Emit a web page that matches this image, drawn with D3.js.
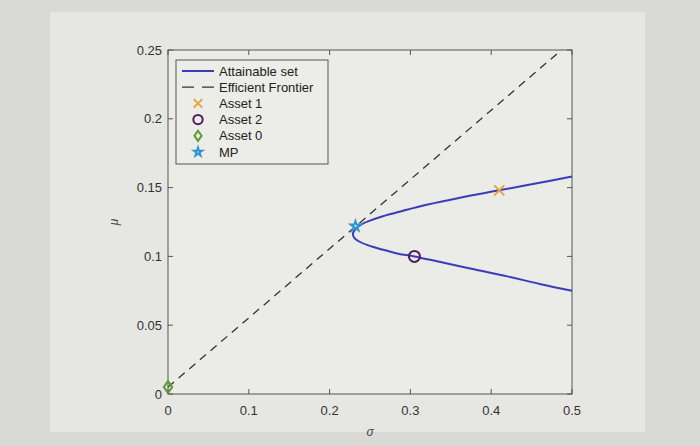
<!DOCTYPE html>
<html>
<head>
<meta charset="utf-8">
<script src="https://cdn.jsdelivr.net/npm/d3@7"></script>
<style>
  body { margin: 0; background: #dcdcd8; }
  svg { display: block; font-family: "Liberation Sans", Arial, sans-serif; }
</style>
</head>
<body>
<div id="chart"></div>
<script>
// Mean-variance plot (sigma vs mu)

const width = 700, height = 446;
const margin = {top: 50, right: 128, bottom: 52, left: 168};

// attainable set (upper branch then lower branch)
const attainable = [
  [0.500, 0.158], [0.455, 0.153], [0.410, 0.148], [0.360, 0.1425],
  [0.320, 0.1375], [0.290, 0.133], [0.265, 0.129], [0.250, 0.126],
  [0.240, 0.1235], [0.233, 0.1205], [0.229, 0.117], [0.230, 0.114],
  [0.236, 0.111], [0.248, 0.108], [0.265, 0.105], [0.285, 0.102],
  [0.305, 0.100], [0.340, 0.0955], [0.380, 0.0905], [0.420, 0.0855],
  [0.460, 0.080], [0.500, 0.075]
];
// efficient frontier (straight line from asset 0 through MP)
const frontier = [[0.000, 0.005], [0.487, 0.250]];
const assets = [
  {name: "Asset 1", sigma: 0.410, mu: 0.148},
  {name: "Asset 2", sigma: 0.305, mu: 0.100},
  {name: "Asset 0", sigma: 0.000, mu: 0.005},
  {name: "MP", sigma: 0.232, mu: 0.122}
];
const xTicks = [0, 0.1, 0.2, 0.3, 0.4, 0.5];
const yTicks = [0, 0.05, 0.1, 0.15, 0.2, 0.25];
const legendNames = ["Attainable set", "Efficient Frontier", "Asset 1", "Asset 2", "Asset 0", "MP"];

const colBlue = "#3b3db8";
const colAsset1 = "#e3a53a";
const colAsset2 = "#4e1f5c";
const colAsset0 = "#5e9a34";
const colMP = "#2f97cf";

const svg = d3.select("#chart").append("svg")
  .attr("width", width).attr("height", height);

// photographed screen background
svg.append("rect").attr("width", width).attr("height", height).attr("fill", "#d9d9d5");
svg.append("rect").attr("x", 50).attr("y", 12).attr("width", 595).attr("height", 420)
  .attr("fill", "#e6e6e2");

const x = d3.scaleLinear().domain([0, 0.5]).range([margin.left, width - margin.right]);
const y = d3.scaleLinear().domain([0, 0.25]).range([height - margin.bottom, margin.top]);

const pw = x(0.5) - x(0), ph = y(0) - y(0.25);

// axes box
svg.append("rect")
  .attr("x", x(0)).attr("y", y(0.25)).attr("width", pw).attr("height", ph)
  .attr("fill", "#ebebe7").attr("stroke", "#555").attr("stroke-width", 1);

// ticks (inward, all four sides)
const tickLen = 5;
const tk = svg.append("g").attr("stroke", "#555").attr("stroke-width", 1);
xTicks.forEach(t => {
  tk.append("line").attr("x1", x(t)).attr("x2", x(t)).attr("y1", y(0)).attr("y2", y(0) - tickLen);
  tk.append("line").attr("x1", x(t)).attr("x2", x(t)).attr("y1", y(0.25)).attr("y2", y(0.25) + tickLen);
});
yTicks.forEach(t => {
  tk.append("line").attr("x1", x(0)).attr("x2", x(0) + tickLen).attr("y1", y(t)).attr("y2", y(t));
  tk.append("line").attr("x1", x(0.5)).attr("x2", x(0.5) - tickLen).attr("y1", y(t)).attr("y2", y(t));
});

// tick labels
svg.append("g").selectAll("text").data(xTicks).enter().append("text")
  .attr("x", d => x(d)).attr("y", y(0) + 21)
  .attr("text-anchor", "middle").attr("font-size", 13).attr("fill", "#333")
  .text(d => d);
svg.append("g").selectAll("text").data(yTicks).enter().append("text")
  .attr("x", x(0) - 6).attr("y", d => y(d) + 4.5)
  .attr("text-anchor", "end").attr("font-size", 13).attr("fill", "#333")
  .text(d => d);

// axis labels
svg.append("text")
  .attr("x", (x(0) + x(0.5)) / 2).attr("y", y(0) + 42)
  .attr("text-anchor", "middle").attr("font-size", 12).attr("font-style", "italic")
  .attr("fill", "#444").text("σ");
svg.append("text")
  .attr("transform", `translate(${x(0) - 50},${(y(0) + y(0.25)) / 2}) rotate(-90)`)
  .attr("text-anchor", "middle").attr("font-size", 12).attr("font-style", "italic")
  .attr("fill", "#444").text("μ");

const line = d3.line().x(d => x(d[0])).y(d => y(d[1]));

// efficient frontier
svg.append("path").datum(frontier)
  .attr("d", line).attr("fill", "none")
  .attr("stroke", "#333").attr("stroke-width", 1.3).attr("stroke-dasharray", "8,6");

// attainable set
svg.append("path").datum(attainable)
  .attr("d", d3.line().curve(d3.curveCatmullRom).x(d => x(d[0])).y(d => y(d[1])))
  .attr("fill", "none").attr("stroke", colBlue).attr("stroke-width", 2);

// markers
function drawMarker(g, name, cx, cy, size) {
  const s = size || 1;
  if (name === "Asset 1") {
    const r = 5 * s;
    g.append("path")
      .attr("d", `M${cx - r},${cy - r}L${cx + r},${cy + r}M${cx - r},${cy + r}L${cx + r},${cy - r}`)
      .attr("stroke", colAsset1).attr("stroke-width", 2);
  } else if (name === "Asset 2") {
    g.append("circle").attr("cx", cx).attr("cy", cy).attr("r", 5.5 * s)
      .attr("fill", "none").attr("stroke", colAsset2).attr("stroke-width", 2);
  } else if (name === "Asset 0") {
    const r = 6 * s;
    g.append("path")
      .attr("d", `M${cx},${cy - r}L${cx + r * 0.7},${cy}L${cx},${cy + r}L${cx - r * 0.7},${cy}Z`)
      .attr("fill", "none").attr("stroke", colAsset0).attr("stroke-width", 2);
  } else {
    g.append("path")
      .attr("transform", `translate(${cx},${cy})`)
      .attr("d", d3.symbol().type(d3.symbolStar).size(30 * s * s)())
      .attr("fill", "none").attr("stroke", colMP).attr("stroke-width", 2);
  }
}

const mk = svg.append("g");
assets.forEach(a => drawMarker(mk, a.name, x(a.sigma), y(a.mu), 1));

// legend
const lg = svg.append("g").attr("transform", `translate(${x(0) + 8},${y(0.25) + 10})`);
lg.append("rect").attr("width", 152).attr("height", 104)
  .attr("fill", "#ececE8").attr("stroke", "#555").attr("stroke-width", 1);
legendNames.forEach((name, i) => {
  const ly = 11 + i * 16.2;
  const row = lg.append("g");
  if (i === 0) {
    row.append("line").attr("x1", 6).attr("x2", 38).attr("y1", ly).attr("y2", ly)
      .attr("stroke", colBlue).attr("stroke-width", 2);
  } else if (i === 1) {
    row.append("line").attr("x1", 6).attr("x2", 38).attr("y1", ly).attr("y2", ly)
      .attr("stroke", "#333").attr("stroke-width", 1.3).attr("stroke-dasharray", "12,8");
  } else {
    drawMarker(row, name, 22, ly, 0.85);
  }
  row.append("text").attr("x", 43).attr("y", ly + 4.5)
    .attr("font-size", 13).attr("fill", "#222").text(name);
});
</script>
</body>
</html>
